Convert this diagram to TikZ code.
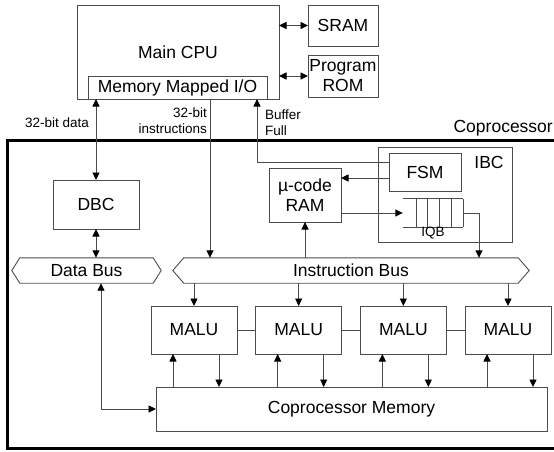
\documentclass[tikz,border=0pt]{standalone}
\usepackage{fontspec}
\setmainfont{Liberation Sans}
\usepackage{tikz}
\usetikzlibrary{arrows.meta, calc}
\definecolor{linegray}{gray}{0.3}
\tikzstyle{block} = [draw=linegray, line width=0.9pt, inner sep=0pt, outer sep=0pt, align=center]
\tikzstyle{wire} = [draw=linegray, line width=0.9pt]
\tikzstyle{arrow} = [wire, -{Triangle[length=7.5pt,width=7pt,color=black]}]
\tikzstyle{darrow} = [wire, {Triangle[length=7.5pt,width=7pt,color=black]}-{Triangle[length=7.5pt,width=7pt,color=black]}]
\tikzstyle{lbl} = [font=\fontsize{13.5}{15.5}\selectfont, inner sep=0pt]

\begin{document}
\begin{tikzpicture}[x=1pt, y=-1pt, every node/.style={font=\fontsize{17.5}{20}\selectfont}]
\useasboundingbox (0,0) rectangle (554,451);

% --- Main CPU ---
\node[block, minimum width=202pt, minimum height=94pt] (cpu) at (178,52) {Main CPU};
\node[block, minimum width=179pt, minimum height=23pt] (mmio) at (177.5,87.5) {Memory Mapped I/O};
\node[block, minimum width=70pt, minimum height=41pt] (sram) at (343,25.5) {SRAM};
\node[block, minimum width=70pt, minimum height=42pt] (rom) at (343,76) {Program\\ROM};
\draw[darrow] (cpu.east |- sram.west) -- (sram.west);
\draw[darrow] (cpu.east |- rom.west) -- (rom.west);

% --- Coprocessor ---
\draw[line width=3pt] (556,140) -- (7,140) -- (7,448) -- (556,448);
\node[anchor=base east, inner sep=0pt] (coplbl) at (553,132) {Coprocessor};

% data side
\node[block, minimum width=86pt, minimum height=49pt] (dbc) at (96,204.5) {DBC};
\node[minimum width=149pt, minimum height=25pt, inner sep=0pt] (dbus) at (86.5,270.5) {Data Bus};
\draw[wire] (dbus.west) -- ([xshift=8pt]dbus.north west) -- ([xshift=-8pt]dbus.north east)
  -- (dbus.east) -- ([xshift=-8pt]dbus.south east) -- ([xshift=8pt]dbus.south west) -- cycle;

% instruction side
\node[minimum width=356pt, minimum height=25pt, inner sep=0pt] (ibus) at (351,270.5) {Instruction Bus};
\draw[wire] (ibus.west) -- ([xshift=11pt]ibus.north west) -- ([xshift=-11pt]ibus.north east)
  -- (ibus.east) -- ([xshift=-11pt]ibus.south east) -- ([xshift=11pt]ibus.south west) -- cycle;

\node[block, minimum width=134pt, minimum height=95pt] (ibc) at (445,194.5) {};
\node (ibclbl) at (489,162) {IBC};
\node[block, minimum width=72pt, minimum height=38pt] (fsm) at (425,172) {FSM};
\node[block, minimum width=72pt, minimum height=54pt] (ram) at (305,195) {µ-code\\RAM};

% queue
\node[minimum width=60pt, minimum height=28pt, inner sep=0pt] (iqb) at (433,213) {};
\draw[wire] (iqb.north west) -- (iqb.north east) (iqb.south west) -- (iqb.south east);
\foreach \k in {0,...,4}
  \draw[wire] ([xshift={-\k*11.8pt}]iqb.north east) -- ([xshift={-\k*11.8pt}]iqb.south east);
\node[lbl, anchor=north] (iqblbl) at (iqb.south) {IQB};

% memory and MALUs
\node[block, minimum width=391pt, minimum height=44pt] (mem) at (351.5,409) {Coprocessor Memory};
\foreach \i in {1,...,4} {
  \node[block, minimum width=86pt, minimum height=48pt] (malu\i) at ({194+104.67*(\i-1)},330) {MALU};
  \draw[arrow] (malu\i.north |- ibus.south) -- (malu\i.north);
  \draw[arrow] ([xshift=-21pt]malu\i.south |- mem.north) -- ([xshift=-21pt]malu\i.south);
  \draw[arrow] ([xshift=25pt]malu\i.south) -- ([xshift=25pt]malu\i.south |- mem.north);
}
\foreach \i/\j in {1/2,2/3,3/4}
  \draw[wire] (malu\i.east) -- (malu\j.west);

% connections
\draw[darrow] (mmio.south -| dbc.north) -- (dbc.north);
\draw[arrow] ([xshift=32.5pt]mmio.south) -- ([xshift=32.5pt]mmio.south |- ibus.north);
\draw[arrow] ([yshift=10pt]fsm.west) -| ([xshift=79.5pt]mmio.south);
\draw[arrow] ([yshift=-6pt]fsm.west) -- ([yshift=-6pt]fsm.west -| ram.east);
\draw[arrow] (ram.east |- iqb.west) -- (iqb.west);
\draw[arrow] (iqb.east) -| ([xshift=128pt]ibus.north);
\draw[arrow] (ram.south |- ibus.north) -- (ram.south);
\draw[darrow] (dbc.south) -- (dbc.south |- dbus.north);
\draw[darrow] ([xshift=14.5pt]dbus.south) |- (mem.west);

% labels
\node[lbl, anchor=base] (datalbl) at (57,127) {32-bit data};
\node[lbl, anchor=north east, align=right] (instlbl) at (207,108) {32-bit\\instructions};
\node[lbl, anchor=north west, align=left] (buflbl) at (265,110) {Buffer\\Full};

\end{tikzpicture}
\end{document}
